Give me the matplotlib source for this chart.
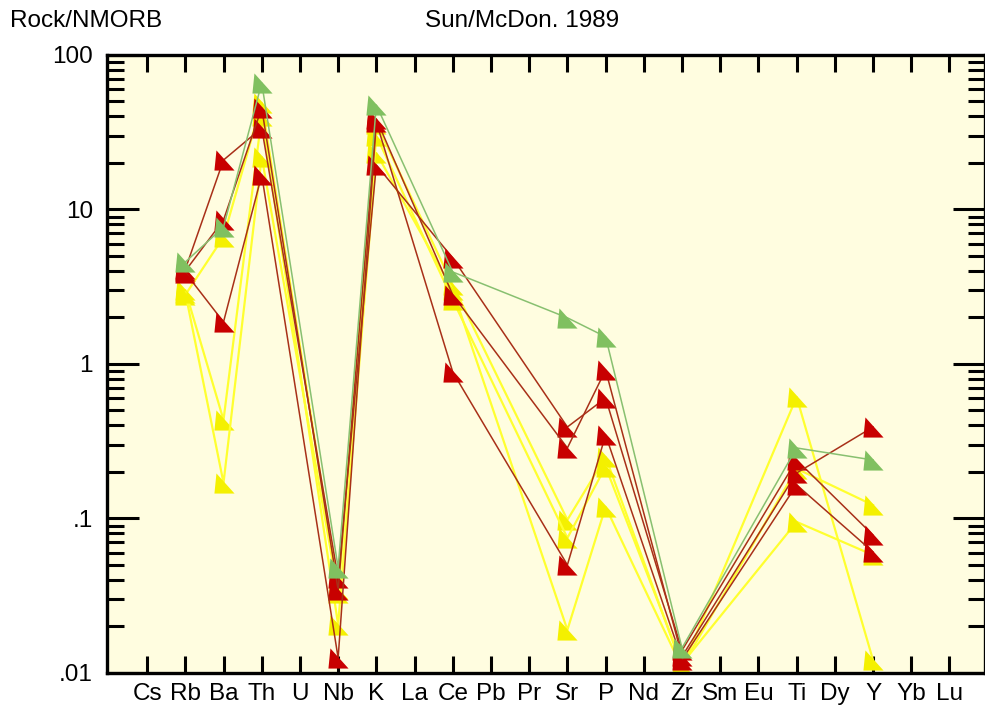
import numpy as np
import matplotlib
matplotlib.use("Agg")
from matplotlib import pyplot as plt
from matplotlib.path import Path
from matplotlib.ticker import FixedLocator, LogLocator, NullFormatter

plt.rcParams["font.family"] = ["Liberation Sans", "DejaVu Sans"]

elements = ["Cs", "Rb", "Ba", "Th", "U", "Nb", "K", "La", "Ce", "Pb", "Pr",
            "Sr", "P", "Nd", "Zr", "Sm", "Eu", "Ti", "Dy", "Y", "Yb", "Lu"]
measured = ["Rb", "Ba", "Th", "Nb", "K", "Ce", "Sr", "P", "Zr", "Ti", "Y"]

# rock / N-MORB ratios, one list per sample (order as in `measured`)
yellow_a = [2.8, 6.63, 49.0, 0.035, 36.0, 3.24, 0.098, 0.25, 0.0110, 0.21, 0.122]
yellow_b = [3.0, 0.434, 40.0, 0.0205, 23.2, 3.0, 0.019, 0.119, 0.0108, 0.611, 0.0121]
yellow_c = [2.9, 0.170, 21.9, 0.033, 30.0, 2.6, 0.0748, 0.216, 0.0115, 0.095, 0.058]
red_a = [4.1, 20.9, 33.7, 0.0412, 19.4, 4.85, 0.391, 0.602, 0.0140, 0.239, 0.078]
red_b = [4.0, 8.55, 45.4, 0.0344, 38.5, 2.80, 0.286, 0.914, 0.0128, 0.197, 0.391]
red_c = [3.9, 1.87, 16.7, 0.0125, 36.8, 0.887, 0.050, 0.347, 0.0122, 0.165, 0.0607]
green_a = [4.57, 7.7, 65.9, 0.048, 47.4, 3.94, 1.99, 1.50, 0.0145, 0.286, 0.239]

y_ticks = [0.01, 0.1, 1, 10, 100]
y_labels = [".01", ".1", "1", "10", "100"]

samples = [
    (yellow_a, "#f4f000", "#ffff30"),
    (yellow_b, "#f4f000", "#ffff30"),
    (yellow_c, "#f4f000", "#ffff30"),
    (red_a, "#c80000", "#a83018"),
    (red_b, "#c80000", "#a83018"),
    (red_c, "#c80000", "#a83018"),
    (green_a, "#80c060", "#88c070"),
]

tri = Path([(-0.4, 0.5), (-0.5, -0.5), (0.5, -0.5), (-0.4, 0.5)],
           [Path.MOVETO, Path.LINETO, Path.LINETO, Path.CLOSEPOLY])

fig = plt.figure(figsize=(9.85, 7.16), dpi=100)
ax = fig.add_axes([0.1086, 0.0601, 0.8914, 0.8631])
ax.set_facecolor("#fffde0")

xpos = [elements.index(e) for e in measured]
for vals, mcol, lcol in samples:
    lw = 1.6 if mcol == "#f4f000" else 1.1
    ax.plot(xpos, vals, color=lcol, lw=lw, marker=tri, ms=14.5,
            markerfacecolor=mcol, markeredgewidth=0)

ax.set_yscale("log")
ax.set_ylim(0.01, 100)
ax.set_xlim(-1.05, 21.93)

ax.yaxis.set_major_locator(FixedLocator(y_ticks))
ax.set_yticklabels(y_labels)
ax.yaxis.set_minor_locator(LogLocator(base=10, subs=np.arange(2, 10)))
ax.yaxis.set_minor_formatter(NullFormatter())

ax.set_xticks(range(len(elements)))
ax.set_xticklabels(elements)

ax.tick_params(axis="y", which="major", direction="in", length=23, width=2.2,
               left=True, right=True, labelsize=17.5, pad=10)
ax.tick_params(axis="y", which="minor", direction="in", length=12, width=2.2,
               left=True, right=True)
ax.tick_params(axis="x", which="major", direction="in", length=12, width=2.2,
               top=True, bottom=True, labelsize=17.5, pad=7)
for s in ax.spines.values():
    s.set_linewidth(2.4)

fig.text(10 / 985, 1 - 21 / 716, "Rock/NMORB", fontsize=17.5, va="center", ha="left")
fig.text(425 / 985, 1 - 21 / 716, "Sun/McDon. 1989", fontsize=17.5, va="center", ha="left")

fig.savefig("out.png", dpi=100)
